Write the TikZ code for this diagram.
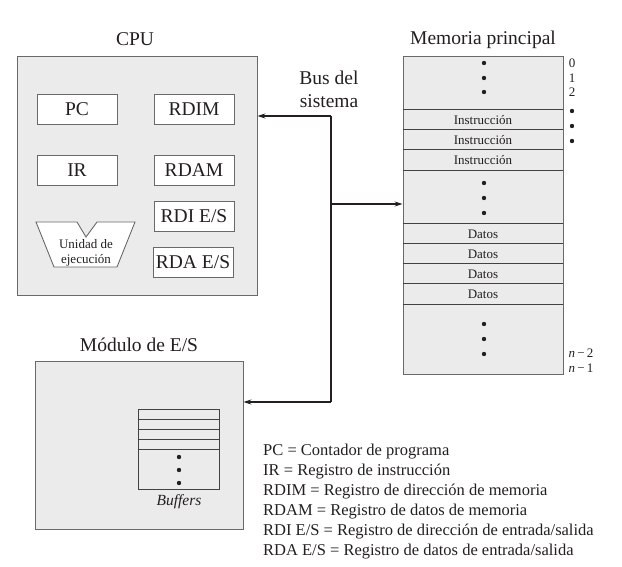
\documentclass[tikz,border=0pt]{standalone}
\usepackage{fontspec}
\setmainfont{Liberation Serif}
\usetikzlibrary{arrows.meta}
\definecolor{boxfill}{RGB}{235,235,235}
\definecolor{boxline}{RGB}{105,105,105}
\definecolor{ink}{RGB}{35,31,32}
\begin{document}
\begin{tikzpicture}[x=1pt,y=-1pt,
  every node/.style={text=ink},
  bigbox/.style={draw=boxline,fill=boxfill,line width=0.9pt,inner sep=0pt},
  regbox/.style={draw=boxline,fill=white,line width=0.9pt,inner sep=0pt,minimum width=80pt,minimum height=30pt,font=\fontsize{19.5}{22}\selectfont},
  titlelbl/.style={font=\fontsize{19.5}{23}\selectfont},
  rowlbl/.style={inner sep=0pt,minimum width=160pt,minimum height=20pt,font=\fontsize{13}{15}\selectfont},
  rowline/.style={draw=ink!85,line width=0.8pt},
  smalllbl/.style={font=\fontsize{13}{15}\selectfont,inner sep=0pt},
  busline/.style={draw=ink,line width=1.2pt},
  busarrow/.style={busline,-{Stealth[length=8pt,width=5pt]}},
  dotmark/.style={fill=ink}
]
\useasboundingbox (0,0) rectangle (622,567);

% ---------- CPU ----------
\node[titlelbl] (cputitle) at (135,39) {CPU};
\node[bigbox,minimum width=240pt,minimum height=239pt] (cpu) at (137,175.5) {};
\node[regbox] (pc) at (77,109) {PC};
\node[regbox] (rdim) at (194,109) {RDIM};
\node[regbox] (ir) at (77,170) {IR};
\node[regbox] (rdam) at (194,170) {RDAM};
\node[regbox] (rdies) at (194,216) {RDI E/S};
\node[regbox] (rdaes) at (193,262) {RDA E/S};
% execution unit
\coordinate (eu1) at (36,222);
\coordinate (eu2) at (77,222);
\coordinate (eu3) at (86,237);
\coordinate (eu4) at (97,222);
\coordinate (eu5) at (135,222);
\coordinate (eu6) at (117,267);
\coordinate (eu7) at (54,267);
\filldraw[draw=boxline,fill=white,line width=0.9pt] (eu1) -- (eu2) -- (eu3) -- (eu4) -- (eu5) -- (eu6) -- (eu7) -- cycle;
\node[smalllbl,align=center] (eu) at (86,253) {Unidad de\\ejecución};

% ---------- Memory ----------
\node[titlelbl] (memtitle) at (483,40) {Memoria principal};
\node[bigbox,minimum width=160pt,minimum height=318pt] (mem) at (483,215) {};
\foreach \y/\n in {120/i1,140/i2,160/i3}{
  \node[rowlbl] (\n) at (483,\y) {Instrucción};
}
\foreach \y/\n in {234/d1,254/d2,274/d3,294/d4}{
  \node[rowlbl] (\n) at (483,\y) {Datos};
}
\foreach \n in {i1,i2,i3,d1,d2,d3,d4}{
  \draw[rowline] (\n.north west) -- (\n.north east);
}
\draw[rowline] (i3.south west) -- (i3.south east);
\draw[rowline] (d4.south west) -- (d4.south east);
\foreach \y in {63,78,92,183,198,213,324,339,354}{
  \fill[dotmark] (484,\y) circle[radius=2.2pt];
}
\node[smalllbl] (a0) at (572,63) {0};
\node[smalllbl] (a1) at (572,78) {1};
\node[smalllbl] (a2) at (572,92) {2};
\foreach \y in {111,126,141}{
  \fill[dotmark] (572,\y) circle[radius=2.2pt];
}
\node[smalllbl] (an2) at (581,353) {\textit{n}\,−\,2};
\node[smalllbl] (an1) at (581,368) {\textit{n}\,−\,1};

% ---------- I/O module ----------
\node[titlelbl] (iotitle) at (139,345) {Módulo de E/S};
\node[bigbox,minimum width=208pt,minimum height=168pt] (io) at (139,445) {};
\node[draw=ink!85,fill=boxfill,line width=0.8pt,inner sep=0pt,minimum width=81pt,minimum height=80pt] (buf) at (178.5,449) {};
\foreach \y in {419,429,439,449}{
  \draw[rowline] (buf.west |- 0,\y) -- (buf.east |- 0,\y);
}
\foreach \y in {457,470,483}{
  \fill[dotmark] (179,\y) circle[radius=2.2pt];
}
\node[smalllbl,font=\fontsize{15.5}{17}\selectfont\itshape] (buflbl) at (179,502) {Buffers};

% ---------- Bus ----------
\node[titlelbl,align=center] (buslbl) at (329,89) {Bus del\\sistema};
\coordinate (bustop) at (331,116);
\coordinate (busmid) at (331,204);
\coordinate (busbot) at (331,402);
\draw[busline] (bustop) -- (busbot);
\draw[busarrow] (bustop) -- (bustop -| cpu.east);
\draw[busarrow] (busmid) -- (busmid -| mem.west);
\draw[busarrow] (busbot) -- (busbot -| io.east);

% ---------- Legend ----------
\node[anchor=north west,align=left,inner sep=0pt,font=\fontsize{16.5}{20}\selectfont] (legend) at (263,444) {PC = Contador de programa\\
IR = Registro de instrucción\\
RDIM = Registro de dirección de memoria\\
RDAM = Registro de datos de memoria\\
RDI E/S = Registro de dirección de entrada/salida\\
RDA E/S = Registro de datos de entrada/salida};
\end{tikzpicture}
\end{document}
